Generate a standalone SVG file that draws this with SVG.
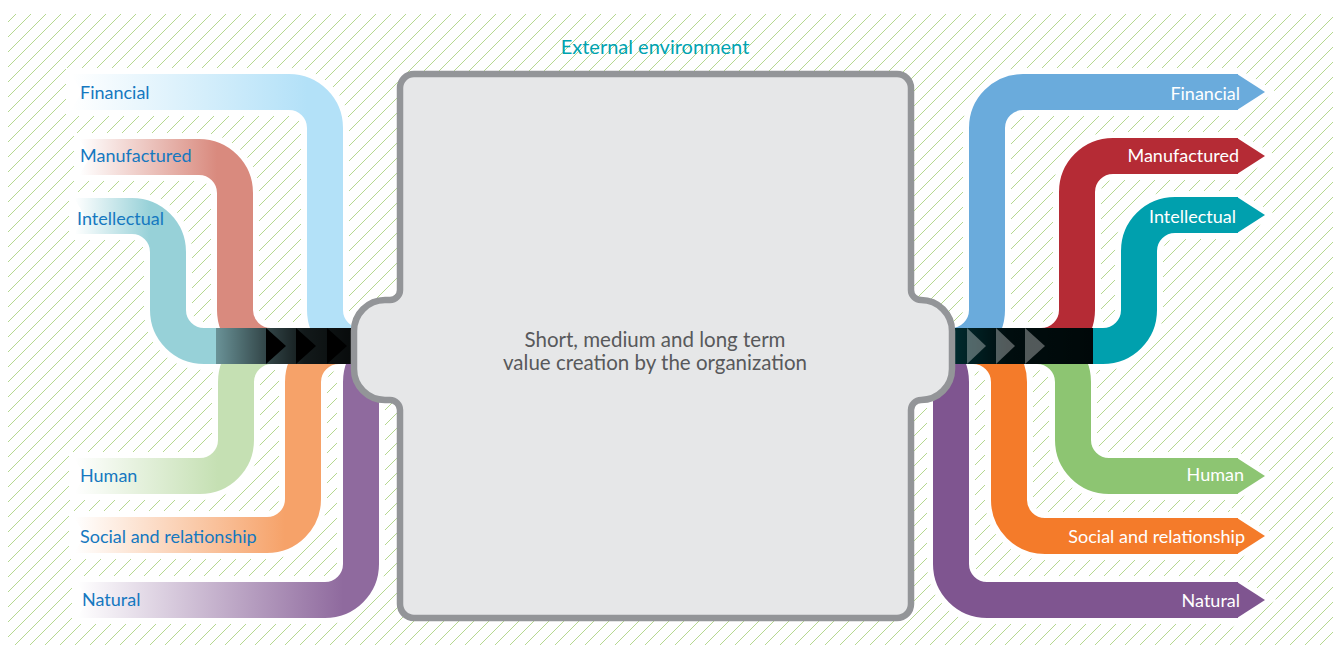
<svg xmlns="http://www.w3.org/2000/svg" width="1333" height="648" viewBox="0 0 1333 648">
<style>
.band{fill:none;stroke-width:36;stroke-linecap:butt;stroke-linejoin:round}
.halo{fill:none;stroke:#fff;stroke-width:48;stroke-linecap:butt}
.lbl{font-family:Lato,"Open Sans",sans-serif;font-size:18px}
.in{fill:#1578c0}
.out{fill:#fff;text-anchor:end}
.ctr{font-family:Lato,"Open Sans",sans-serif;font-size:20.5px;fill:#58595b;text-anchor:middle}
</style>
<defs>
<pattern id="hatch" patternUnits="userSpaceOnUse" width="15" height="15">
<path d="M0,15 L15,0 M-2,2 L2,-2 M13,17 L17,13" stroke="#b5d88f" stroke-width="1"/>
</pattern>
<linearGradient id="gFin" gradientUnits="userSpaceOnUse" x1="72" y1="0" x2="307" y2="0"><stop offset="0" stop-color="#fff"/><stop offset="1" stop-color="#b3e1f8"/></linearGradient>
<linearGradient id="gMan" gradientUnits="userSpaceOnUse" x1="80" y1="0" x2="217" y2="0"><stop offset="0" stop-color="#fff"/><stop offset="1" stop-color="#d98a7e"/></linearGradient>
<linearGradient id="gInt" gradientUnits="userSpaceOnUse" x1="75" y1="0" x2="150" y2="0"><stop offset="0" stop-color="#fff"/><stop offset="1" stop-color="#97d1d8"/></linearGradient>
<linearGradient id="gHum" gradientUnits="userSpaceOnUse" x1="75" y1="0" x2="218" y2="0"><stop offset="0" stop-color="#fff"/><stop offset="1" stop-color="#c5e0b3"/></linearGradient>
<linearGradient id="gSoc" gradientUnits="userSpaceOnUse" x1="75" y1="0" x2="285" y2="0"><stop offset="0" stop-color="#fff"/><stop offset="1" stop-color="#f6a269"/></linearGradient>
<linearGradient id="gNat" gradientUnits="userSpaceOnUse" x1="78" y1="0" x2="343" y2="0"><stop offset="0" stop-color="#fff"/><stop offset="1" stop-color="#8f6a9e"/></linearGradient>
<linearGradient id="gDarkL" gradientUnits="userSpaceOnUse" x1="216" y1="0" x2="352" y2="0"><stop offset="0" stop-color="#000" stop-opacity="0.3"/><stop offset="0.35" stop-color="#000" stop-opacity="0.65"/><stop offset="0.65" stop-color="#000" stop-opacity="0.88"/><stop offset="1" stop-color="#000" stop-opacity="0.95"/></linearGradient>
<linearGradient id="gDarkR" gradientUnits="userSpaceOnUse" x1="950" y1="0" x2="1093" y2="0"><stop offset="0" stop-color="#000" stop-opacity="0.72"/><stop offset="0.4" stop-color="#000" stop-opacity="0.92"/><stop offset="1" stop-color="#000" stop-opacity="0.95"/></linearGradient>
</defs>
<rect width="1333" height="648" fill="#fff"/>
<rect x="8" y="14" width="1325" height="631" fill="url(#hatch)"/>

<g id="halos">
<path class="halo" d="M66,92 H289 A36,36 0 0 1 325,128 V310 A36,36 0 0 0 361,346 H400"/>
<path class="halo" d="M74,157 H199 A36,36 0 0 1 235,193 V310 A36,36 0 0 0 271,346 H400"/>
<path class="halo" d="M69,216 H132 A36,36 0 0 1 168,252 V310 A36,36 0 0 0 204,346 H400"/>
<path class="halo" d="M69,476 H200 A36,36 0 0 0 236,440 V382 A36,36 0 0 1 272,346 H400"/>
<path class="halo" d="M69,535 H267 A36,36 0 0 0 303,499 V382 A36,36 0 0 1 339,346 H400"/>
<path class="halo" d="M72,600 H325 A36,36 0 0 0 361,564 V382 A36,36 0 0 1 397,346 H400"/>
<path class="halo" d="M940,346 H951 A36,36 0 0 0 987,310 V128 A36,36 0 0 1 1023,92 H1240"/>
<path class="halo" d="M940,346 H1041 A36,36 0 0 0 1077,310 V192 A36,36 0 0 1 1113,156 H1240"/>
<path class="halo" d="M940,346 H1103 A36,36 0 0 0 1139,310 V251 A36,36 0 0 1 1175,215 H1240"/>
<path class="halo" d="M940,346 H1037 A36,36 0 0 1 1073,382 V440 A36,36 0 0 0 1109,476 H1240"/>
<path class="halo" d="M940,346 H973 A36,36 0 0 1 1009,382 V500 A36,36 0 0 0 1045,536 H1240"/>
<path class="halo" d="M900,346 H915 A36,36 0 0 1 951,382 V564 A36,36 0 0 0 987,600 H1240"/>
<g fill="#fff" stroke="#fff" stroke-width="12" stroke-linejoin="miter">
<polygon points="1236,74 1265,92 1236,110"/>
<polygon points="1236,138 1265,156 1236,174"/>
<polygon points="1236,197 1265,215 1236,233"/>
<polygon points="1236,458 1265,476 1236,494"/>
<polygon points="1236,518 1265,536 1236,554"/>
<polygon points="1236,582 1265,600 1236,618"/>
</g>
</g>

<g id="connectors">
<g id="inputs">
<path class="band" stroke="url(#gNat)" d="M78,600 H325 A36,36 0 0 0 361,564 V382 A36,36 0 0 1 397,346 H400"/>
<path class="band" stroke="url(#gSoc)" d="M75,535 H267 A36,36 0 0 0 303,499 V382 A36,36 0 0 1 339,346 H400"/>
<path class="band" stroke="url(#gHum)" d="M75,476 H200 A36,36 0 0 0 236,440 V382 A36,36 0 0 1 272,346 H400"/>
<path class="band" stroke="url(#gFin)" d="M72,92 H289 A36,36 0 0 1 325,128 V310 A36,36 0 0 0 361,346 H400"/>
<path class="band" stroke="url(#gMan)" d="M80,157 H199 A36,36 0 0 1 235,193 V310 A36,36 0 0 0 271,346 H400"/>
<path class="band" stroke="url(#gInt)" d="M75,216 H132 A36,36 0 0 1 168,252 V310 A36,36 0 0 0 204,346 H400"/>
<g fill="#fff">
<polygon points="71,74 82,92 71,110"/>
<polygon points="79,139 90,157 79,175"/>
<polygon points="74,198 85,216 74,234"/>
<polygon points="74,458 85,476 74,494"/>
<polygon points="74,517 85,535 74,553"/>
<polygon points="77,582 88,600 77,618"/>
</g>
<rect x="216" y="328" width="136" height="36" fill="url(#gDarkL)"/>
<g fill="#000">
<polygon points="266,328 286,346 266,364"/>
<polygon points="296,328 316,346 296,364"/>
<polygon points="327,328 347,346 327,364"/>
</g>
</g>
<g id="outputs">
<path class="band" stroke="#7f5590" d="M900,346 H915 A36,36 0 0 1 951,382 V564 A36,36 0 0 0 987,600 H1238"/>
<path class="band" stroke="#f47b2a" d="M940,346 H973 A36,36 0 0 1 1009,382 V500 A36,36 0 0 0 1045,536 H1238"/>
<path class="band" stroke="#8dc572" d="M940,346 H1037 A36,36 0 0 1 1073,382 V440 A36,36 0 0 0 1109,476 H1238"/>
<path class="band" stroke="#6aabdc" d="M940,346 H951 A36,36 0 0 0 987,310 V128 A36,36 0 0 1 1023,92 H1238"/>
<path class="band" stroke="#b52b35" d="M940,346 H1041 A36,36 0 0 0 1077,310 V192 A36,36 0 0 1 1113,156 H1238"/>
<path class="band" stroke="#00a0ae" d="M940,346 H1103 A36,36 0 0 0 1139,310 V251 A36,36 0 0 1 1175,215 H1238"/>
<polygon fill="#6aabdc" points="1237,74 1265,92 1237,110"/>
<polygon fill="#b52b35" points="1237,138 1265,156 1237,174"/>
<polygon fill="#00a0ae" points="1237,197 1265,215 1237,233"/>
<polygon fill="#8dc572" points="1237,458 1265,476 1237,494"/>
<polygon fill="#f47b2a" points="1237,518 1265,536 1237,554"/>
<polygon fill="#7f5590" points="1237,582 1265,600 1237,618"/>
<rect x="950" y="328" width="143" height="36" fill="url(#gDarkR)"/>
<g fill="#fff" fill-opacity="0.32">
<polygon points="967,328 986,346 967,364"/>
<polygon points="996,328 1015,346 996,364"/>
<polygon points="1025,328 1045,346 1025,364"/>
</g>
</g>
</g>

<g id="box">
<path d="M414,74 H897 A14,14 0 0 1 911,88 V290 A10,10 0 0 0 921,300 A31,31 0 0 1 952,331 V369 A31,31 0 0 1 921,400 A10,10 0 0 0 911,410 V604 A14,14 0 0 1 897,618 H414 A14,14 0 0 1 400,604 V410 A10,10 0 0 0 390,400 H385 A31,31 0 0 1 354,369 V331 A31,31 0 0 1 385,300 H390 A10,10 0 0 0 400,290 V88 A14,14 0 0 1 414,74 Z" fill="#e6e7e8" stroke="#939598" stroke-width="6.5"/>
<text class="ctr" x="655" y="347">Short, medium and long term</text>
<text class="ctr" x="655" y="370">value creation by the organization</text>
</g>

<g id="title"><text class="lbl" x="655" y="54" fill="#00a3b0" text-anchor="middle" style="font-size:20px">External environment</text></g>

<g id="labels-in">
<text class="lbl in" x="80" y="99">Financial</text>
<text class="lbl in" x="80" y="162">Manufactured</text>
<text class="lbl in" x="77" y="225">Intellectual</text>
<text class="lbl in" x="80" y="482">Human</text>
<text class="lbl in" x="80" y="543">Social and relationship</text>
<text class="lbl in" x="82" y="606">Natural</text>
</g>
<g id="labels-out">
<text class="lbl out" x="1240" y="100">Financial</text>
<text class="lbl out" x="1239" y="162">Manufactured</text>
<text class="lbl out" x="1236" y="223">Intellectual</text>
<text class="lbl out" x="1244" y="481">Human</text>
<text class="lbl out" x="1245" y="543">Social and relationship</text>
<text class="lbl out" x="1240" y="607">Natural</text>
</g>
</svg>
